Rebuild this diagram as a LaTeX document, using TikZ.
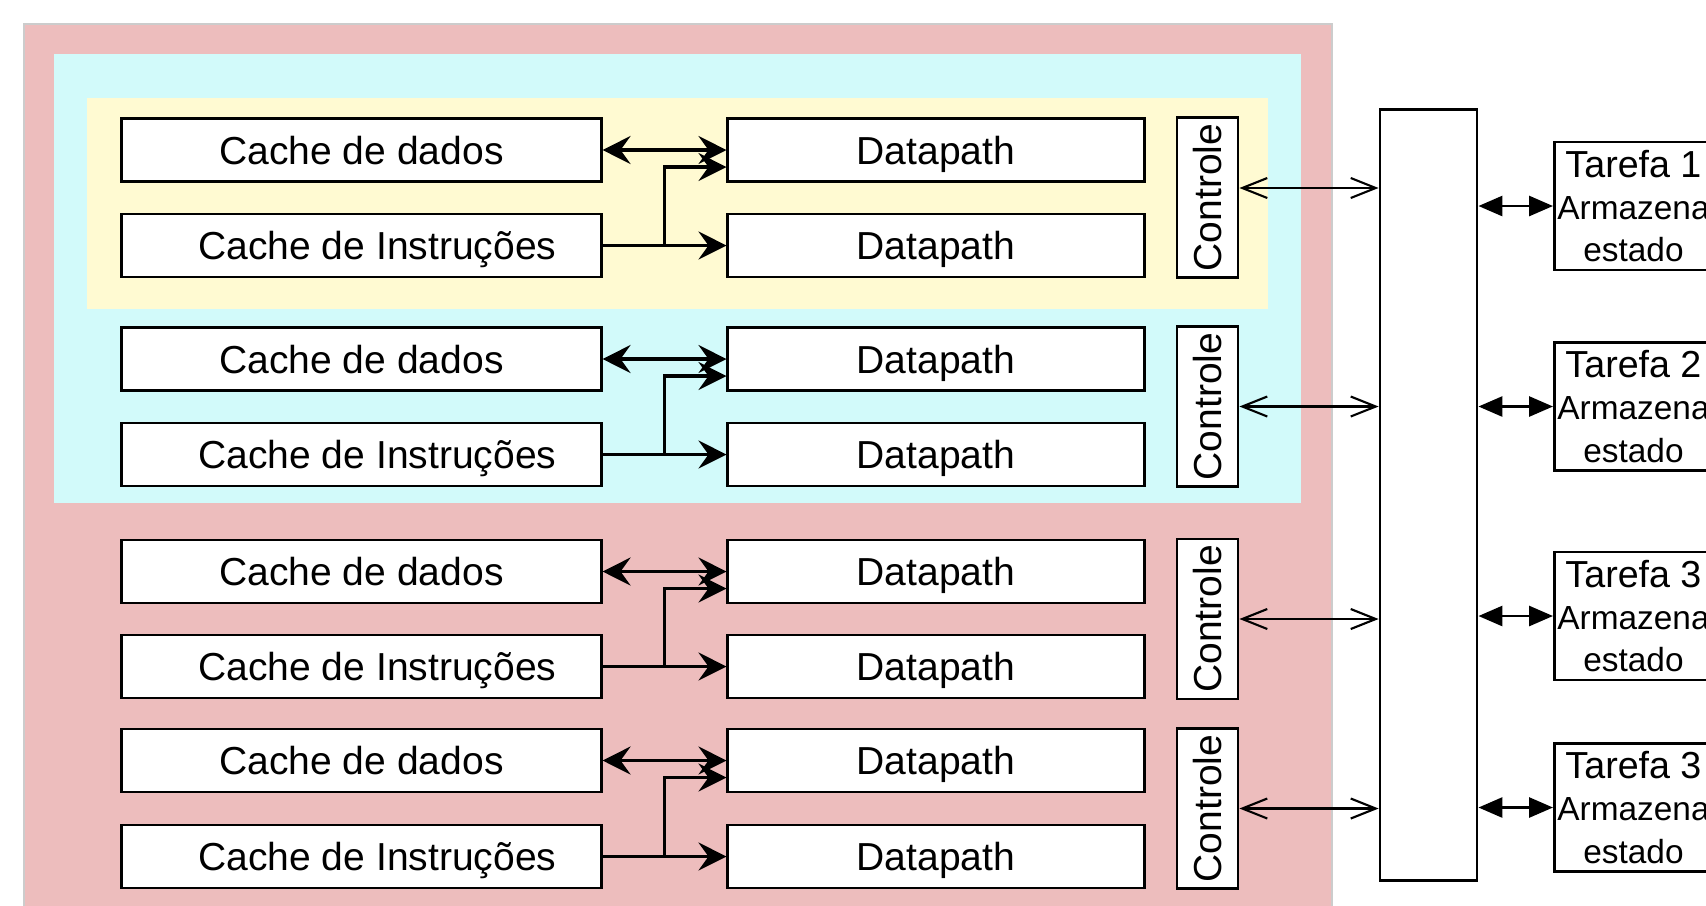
\documentclass[tikz,border=0pt]{standalone}
\usepackage{fontspec}
\setmainfont{Liberation Sans}
\usepackage{tikz}
\usetikzlibrary{arrows.meta,positioning}
\tikzset{>=latex}
\definecolor{redbg}{RGB}{237,189,189}
\definecolor{cyanbg}{RGB}{210,250,250}
\definecolor{yellowbg}{RGB}{255,250,210}
\tikzset{
  blk/.style={draw=black, fill=white, line width=0.8pt, inner sep=0pt, font=\fontsize{11.1}{13}\selectfont},
  cachebox/.style={blk, text height=8pt, text depth=0pt, minimum width=4.79cm, minimum height=0.63cm},
  dpbox/.style={blk, text height=8pt, text depth=0pt, minimum width=4.16cm, minimum height=0.63cm},
  ctlbox/.style={blk, rotate=90, text height=8pt, text depth=0pt, minimum width=1.6cm, minimum height=0.61cm},
  busbox/.style={blk, minimum width=0.97cm, minimum height=7.7cm},
  taskbox/.style={blk, anchor=west, minimum width=1.58cm, minimum height=1.28cm, align=center, font=\fontsize{10.7}{12}\selectfont},
  dat/.style={line width=0.9pt, >={Stealth[length=2.8mm,width=2.8mm,inset=1mm]}},
  ctl/.style={line width=0.6pt, >={Straight Barb[length=2.5mm,width=2mm]}},
  tsk/.style={line width=0.8pt, >={Triangle[length=2.4mm,width=2mm]}}
}
\newcommand{\smalltxt}{\fontsize{9.5}{12}\selectfont}
\begin{document}
\begin{tikzpicture}[x=0.01cm, y=-0.01cm]
  \useasboundingbox (0,0) rectangle (1706,905);
  \clip (0,0) rectangle (1706,905);
  % fundos
  \draw[fill=redbg, draw=black!20, line width=0.6pt] (24,24) rectangle (1332,930);
  \fill[cyanbg] (54,54) rectangle (1301,503);
  \fill[yellowbg] (87,98) rectangle (1268,309);
  \node[busbox] (bus) at (1428.5,495) {};
  \foreach \i/\ya/\yb/\yc/\yt/\dy/\tname in {1/150/245.5/197.5/206/0.95/Tarefa 1,
      2/359/454.5/406.5/406.5/0/Tarefa 2, 3/571.5/666.5/619/616/0/Tarefa 3,
      4/760.5/856.5/808.5/807.5/0/Tarefa 3}{
    \node[cachebox] (cd\i) at (361.5,\ya) {Cache de dados};
    \node[cachebox] (ci\i) at (361.5,\yb) {\hspace*{9pt}Cache de Instruções};
    \node[dpbox] (dpa\i) at (936,\ya) {Datapath};
    \node[dpbox] (dpb\i) at (936,\yb) {Datapath};
    \node[ctlbox] (ctl\i) at (1207.5,\yc) {Controle};
    \node[taskbox] (t\i) at (1553,\yt) {\tname\\{\smalltxt Armazena}\\{\smalltxt estado}};
    \draw[dat,<->] (cd\i.east) -- (dpa\i.west);
    \draw[dat,->] (ci\i.east) -- (dpb\i.west);
    \draw[dat,->] (ci\i.east) ++(62,0) |- ([yshift=-1.7mm]dpa\i.west);
    \draw[ctl,<->] ([yshift=\dy mm]ctl\i.south) -- ([yshift=\dy mm]ctl\i.south -| bus.west);
    \draw[tsk,<->] (t\i.west -| bus.east) -- (t\i.west);
  }
\end{tikzpicture}
\end{document}
